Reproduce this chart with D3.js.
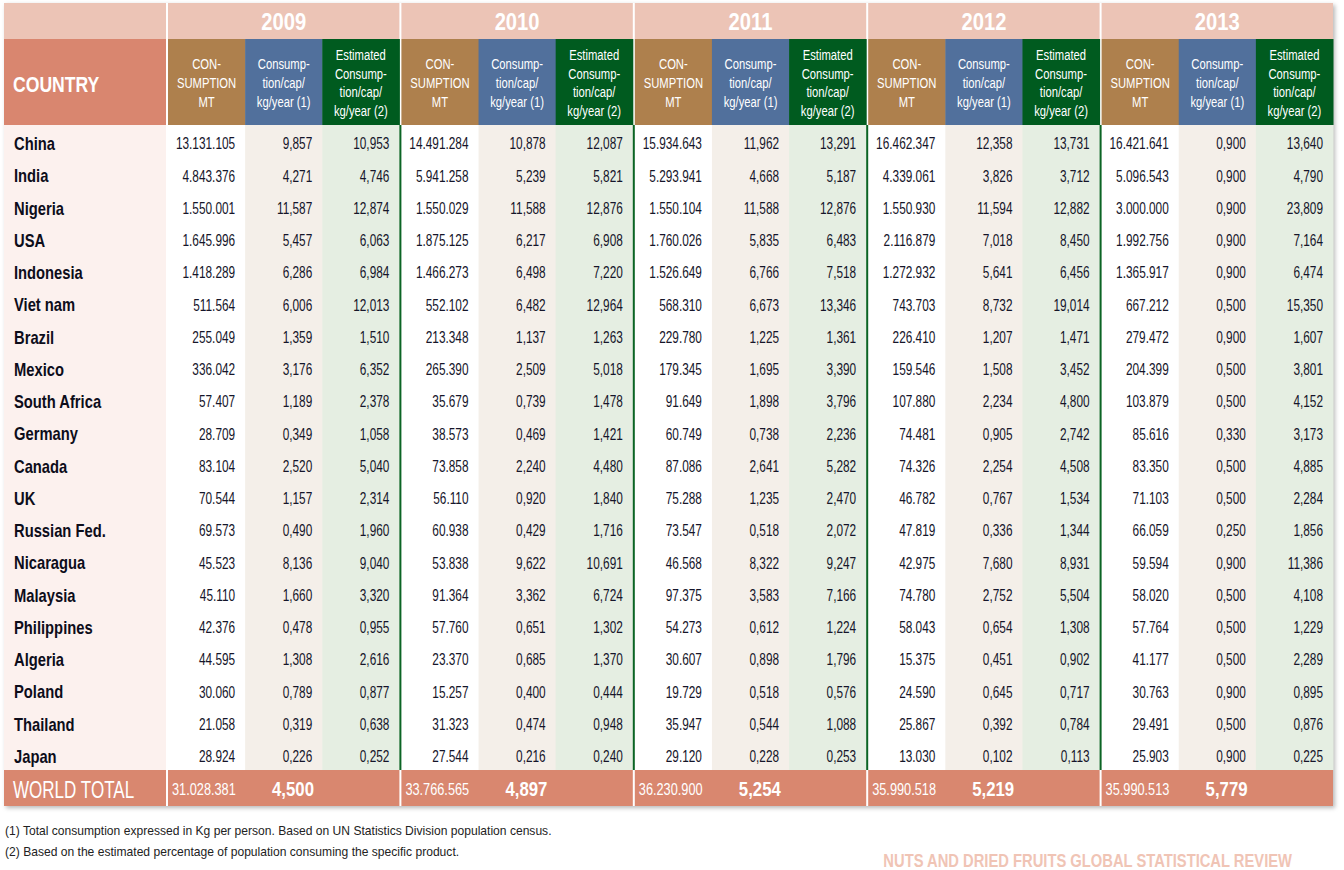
<!DOCTYPE html>
<html><head><meta charset="utf-8">
<script src="https://cdn.jsdelivr.net/npm/d3@7/dist/d3.min.js"></script>
<style>
html,body{margin:0;padding:0;background:#fff;}
svg{display:block;font-family:"Liberation Sans",Arial,sans-serif;}
</style></head>
<body><svg id="chart" width="1344" height="870"></svg>
<script>
const years = ["2009","2010","2011","2012","2013"];
const countries = ["China","India","Nigeria","USA","Indonesia","Viet nam","Brazil","Mexico","South Africa","Germany","Canada","UK","Russian Fed.","Nicaragua","Malaysia","Philippines","Algeria","Poland","Thailand","Japan"];

const consumption2009 = ["13.131.105","4.843.376","1.550.001","1.645.996","1.418.289","511.564","255.049","336.042","57.407","28.709","83.104","70.544","69.573","45.523","45.110","42.376","44.595","30.060","21.058","28.924"];
const perCapita2009 = ["9,857","4,271","11,587","5,457","6,286","6,006","1,359","3,176","1,189","0,349","2,520","1,157","0,490","8,136","1,660","0,478","1,308","0,789","0,319","0,226"];
const estimated2009 = ["10,953","4,746","12,874","6,063","6,984","12,013","1,510","6,352","2,378","1,058","5,040","2,314","1,960","9,040","3,320","0,955","2,616","0,877","0,638","0,252"];

const consumption2010 = ["14.491.284","5.941.258","1.550.029","1.875.125","1.466.273","552.102","213.348","265.390","35.679","38.573","73.858","56.110","60.938","53.838","91.364","57.760","23.370","15.257","31.323","27.544"];
const perCapita2010 = ["10,878","5,239","11,588","6,217","6,498","6,482","1,137","2,509","0,739","0,469","2,240","0,920","0,429","9,622","3,362","0,651","0,685","0,400","0,474","0,216"];
const estimated2010 = ["12,087","5,821","12,876","6,908","7,220","12,964","1,263","5,018","1,478","1,421","4,480","1,840","1,716","10,691","6,724","1,302","1,370","0,444","0,948","0,240"];

const consumption2011 = ["15.934.643","5.293.941","1.550.104","1.760.026","1.526.649","568.310","229.780","179.345","91.649","60.749","87.086","75.288","73.547","46.568","97.375","54.273","30.607","19.729","35.947","29.120"];
const perCapita2011 = ["11,962","4,668","11,588","5,835","6,766","6,673","1,225","1,695","1,898","0,738","2,641","1,235","0,518","8,322","3,583","0,612","0,898","0,518","0,544","0,228"];
const estimated2011 = ["13,291","5,187","12,876","6,483","7,518","13,346","1,361","3,390","3,796","2,236","5,282","2,470","2,072","9,247","7,166","1,224","1,796","0,576","1,088","0,253"];

const consumption2012 = ["16.462.347","4.339.061","1.550.930","2.116.879","1.272.932","743.703","226.410","159.546","107.880","74.481","74.326","46.782","47.819","42.975","74.780","58.043","15.375","24.590","25.867","13.030"];
const perCapita2012 = ["12,358","3,826","11,594","7,018","5,641","8,732","1,207","1,508","2,234","0,905","2,254","0,767","0,336","7,680","2,752","0,654","0,451","0,645","0,392","0,102"];
const estimated2012 = ["13,731","3,712","12,882","8,450","6,456","19,014","1,471","3,452","4,800","2,742","4,508","1,534","1,344","8,931","5,504","1,308","0,902","0,717","0,784","0,113"];

const consumption2013 = ["16.421.641","5.096.543","3.000.000","1.992.756","1.365.917","667.212","279.472","204.399","103.879","85.616","83.350","71.103","66.059","59.594","58.020","57.764","41.177","30.763","29.491","25.903"];
const perCapita2013 = ["0,900","0,900","0,900","0,900","0,900","0,500","0,900","0,500","0,500","0,330","0,500","0,500","0,250","0,900","0,500","0,500","0,500","0,900","0,500","0,900"];
const estimated2013 = ["13,640","4,790","23,809","7,164","6,474","15,350","1,607","3,801","4,152","3,173","4,885","2,284","1,856","11,386","4,108","1,229","2,289","0,895","0,876","0,225"];

const worldTotalMT = ["31.028.381","33.766.565","36.230.900","35.990.518","35.990.513"];
const worldTotalPerCap = ["4,500","4,897","5,254","5,219","5,779"];

const columnKeys = ["cons","cap","est"];
const columnHeaders = [["CON-","SUMPTION","MT"],["Consump-","tion/cap/","kg/year (1)"],["Estimated","Consump-","tion/cap/","kg/year (2)"]];
const footnotes = ["(1) Total consumption expressed in Kg per person. Based on UN Statistics Division population census.","(2) Based on the estimated percentage of population consuming the specific product."];
const sourceLabel = "NUTS AND DRIED FRUITS GLOBAL STATISTICAL REVIEW";

const dataByYear = {
  "2009": {cons: consumption2009, cap: perCapita2009, est: estimated2009},
  "2010": {cons: consumption2010, cap: perCapita2010, est: estimated2010},
  "2011": {cons: consumption2011, cap: perCapita2011, est: estimated2011},
  "2012": {cons: consumption2012, cap: perCapita2012, est: estimated2012},
  "2013": {cons: consumption2013, cap: perCapita2013, est: estimated2013}
};

const colors = {
  yearBg:"#ecc4b6", countryHead:"#d9866f", total:"#d9876f",
  cons:"#ae804d", cap:"#51709c", est:"#005b1f",
  countryBody:"#fcf1ee", consBody:"#ffffff", capBody:"#f4efe9", estBody:"#e5eee2",
  rule:"#0b6424"
};

const svg = d3.select("#chart");
const defs = svg.append("defs");
const f = defs.append("filter").attr("id","shadow").attr("x","-2%").attr("y","-2%").attr("width","104%").attr("height","106%");
f.append("feDropShadow").attr("dx",2).attr("dy",2).attr("stdDeviation",2).attr("flood-color","#000").attr("flood-opacity",0.28);

function place(sel, xf, yf, sx){
  sel.attr("transform",(d,i)=>`translate(${typeof xf==="function"?xf(d,i):xf},${typeof yf==="function"?yf(d,i):yf}) scale(${sx},1)`);
  return sel;
}

const left = 4, countryRight = 166, right = 1333;
const topY = 3, headTop = 39, headBottom = 125, bodyBottom = 770, totalBottom = 806;

const x = d3.scaleBand().domain(years).range([countryRight, right]);
const y = d3.scaleBand().domain(countries).range([headBottom, bodyBottom]);

svg.append("rect").attr("x",left).attr("y",topY).attr("width",right-left).attr("height",totalBottom-topY)
  .attr("fill","#fff").attr("filter","url(#shadow)");

const g = svg.append("g");

// Year header row
g.append("rect").attr("x",left).attr("y",topY).attr("width",countryRight-left).attr("height",headTop-topY).attr("fill",colors.yearBg);
g.selectAll("rect.yearbg").data(years).join("rect").attr("class","yearbg")
  .attr("x",d=>x(d)+2).attr("y",topY).attr("width",x.bandwidth()-2).attr("height",headTop-topY).attr("fill",colors.yearBg);
place(g.selectAll("text.year").data(years).join("text").attr("class","year")
  .attr("dy","0.36em").attr("text-anchor","middle").attr("fill","#fff").attr("font-weight","bold").attr("font-size",23.5).text(d=>d),
  d=>x(d)+1+x.bandwidth()/2, (topY+headTop)/2+1, 0.86);

// Column header row
g.append("rect").attr("x",left).attr("y",headTop).attr("width",countryRight-left).attr("height",headBottom-headTop).attr("fill",colors.countryHead);
place(g.append("text").attr("dy","0.36em").attr("fill","#fff").attr("font-weight","bold").attr("font-size",22).text("COUNTRY"),
  13, (headTop+headBottom)/2+2, 0.8);

years.forEach(yr=>{
  const bx = x(yr)+2, bw = x.bandwidth()-2;
  const s = d3.scaleBand().domain(columnKeys).range([bx, bx+bw]);
  columnKeys.forEach((k,i)=>{
    g.append("rect").attr("x",s(k)).attr("y",headTop).attr("width",s.bandwidth()+0.5).attr("height",headBottom-headTop).attr("fill",colors[k]);
    const lines = columnHeaders[i];
    const lh = 18.7, cy = (headTop+headBottom)/2 + 0.5;
    const t = g.append("text").attr("text-anchor","middle").attr("fill","#fff").attr("font-size",15);
    place(t, s(k)+s.bandwidth()/2, cy, 0.75);
    lines.forEach((ln,j)=>{
      t.append("tspan").attr("x",0).attr("y",(j-(lines.length-1)/2)*lh).attr("dy","0.36em").text(ln);
    });
    g.append("rect").attr("x",s(k)).attr("y",headBottom).attr("width",s.bandwidth()+0.5).attr("height",bodyBottom-headBottom).attr("fill",colors[k+"Body"]);
    place(g.selectAll(null).data(countries).join("text")
      .attr("dy","0.36em").attr("text-anchor","end").attr("font-size",16).attr("fill","#15152a")
      .text((d,ci)=>dataByYear[yr][k][ci]),
      s(k)+s.bandwidth()-10, d=>y(d)+y.bandwidth()/2+2.5, 0.74);
  });
});

// country body
g.append("rect").attr("x",left).attr("y",headBottom).attr("width",countryRight-left).attr("height",bodyBottom-headBottom).attr("fill",colors.countryBody);
place(g.selectAll("text.country").data(countries).join("text").attr("class","country")
  .attr("dy","0.36em").attr("font-size",18).attr("font-weight","bold").attr("fill","#0d0d1a").text(d=>d),
  14, d=>y(d)+y.bandwidth()/2+2.5, 0.82);

g.append("rect").attr("x",countryRight).attr("y",headBottom).attr("width",2).attr("height",bodyBottom-headBottom).attr("fill","#fff");
g.selectAll("rect.rule").data(years.slice(1)).join("rect").attr("class","rule")
  .attr("x",d=>x(d)).attr("y",headBottom).attr("width",2).attr("height",bodyBottom-headBottom).attr("fill",colors.rule);

// World total row
const ty = (bodyBottom+totalBottom)/2+1;
g.append("rect").attr("x",left).attr("y",bodyBottom).attr("width",countryRight-left).attr("height",totalBottom-bodyBottom).attr("fill",colors.total);
place(g.append("text").attr("dy","0.36em").attr("fill","#fff").attr("font-size",24).text("WORLD TOTAL"), 13, ty, 0.71);
g.selectAll("rect.totbg").data(years).join("rect").attr("class","totbg")
  .attr("x",d=>x(d)+2).attr("y",bodyBottom).attr("width",x.bandwidth()-2).attr("height",totalBottom-bodyBottom).attr("fill",colors.total);
place(g.selectAll("text.totmt").data(years).join("text").attr("class","totmt")
  .attr("dy","0.36em").attr("fill","#fff").attr("font-size",17).text((d,i)=>worldTotalMT[i]),
  d=>x(d)+6, ty, 0.75);
place(g.selectAll("text.totcap").data(years).join("text").attr("class","totcap")
  .attr("dy","0.36em").attr("fill","#fff").attr("font-weight","bold").attr("font-size",20).text((d,i)=>worldTotalPerCap[i]),
  d=>x(d)+106, ty, 0.84);

// Footnotes
place(svg.selectAll("text.foot").data(footnotes).join("text").attr("class","foot")
  .attr("dy","0.36em").attr("font-size",13).attr("fill","#222").text(d=>d),
  5, (d,i)=>830+i*21, 0.93);

place(svg.append("text").attr("dy","0.36em").attr("text-anchor","end")
  .attr("font-size",18).attr("font-weight","bold").attr("fill","#f0c4b5").text(sourceLabel), 1292, 861, 0.82);
</script>
</body></html>
